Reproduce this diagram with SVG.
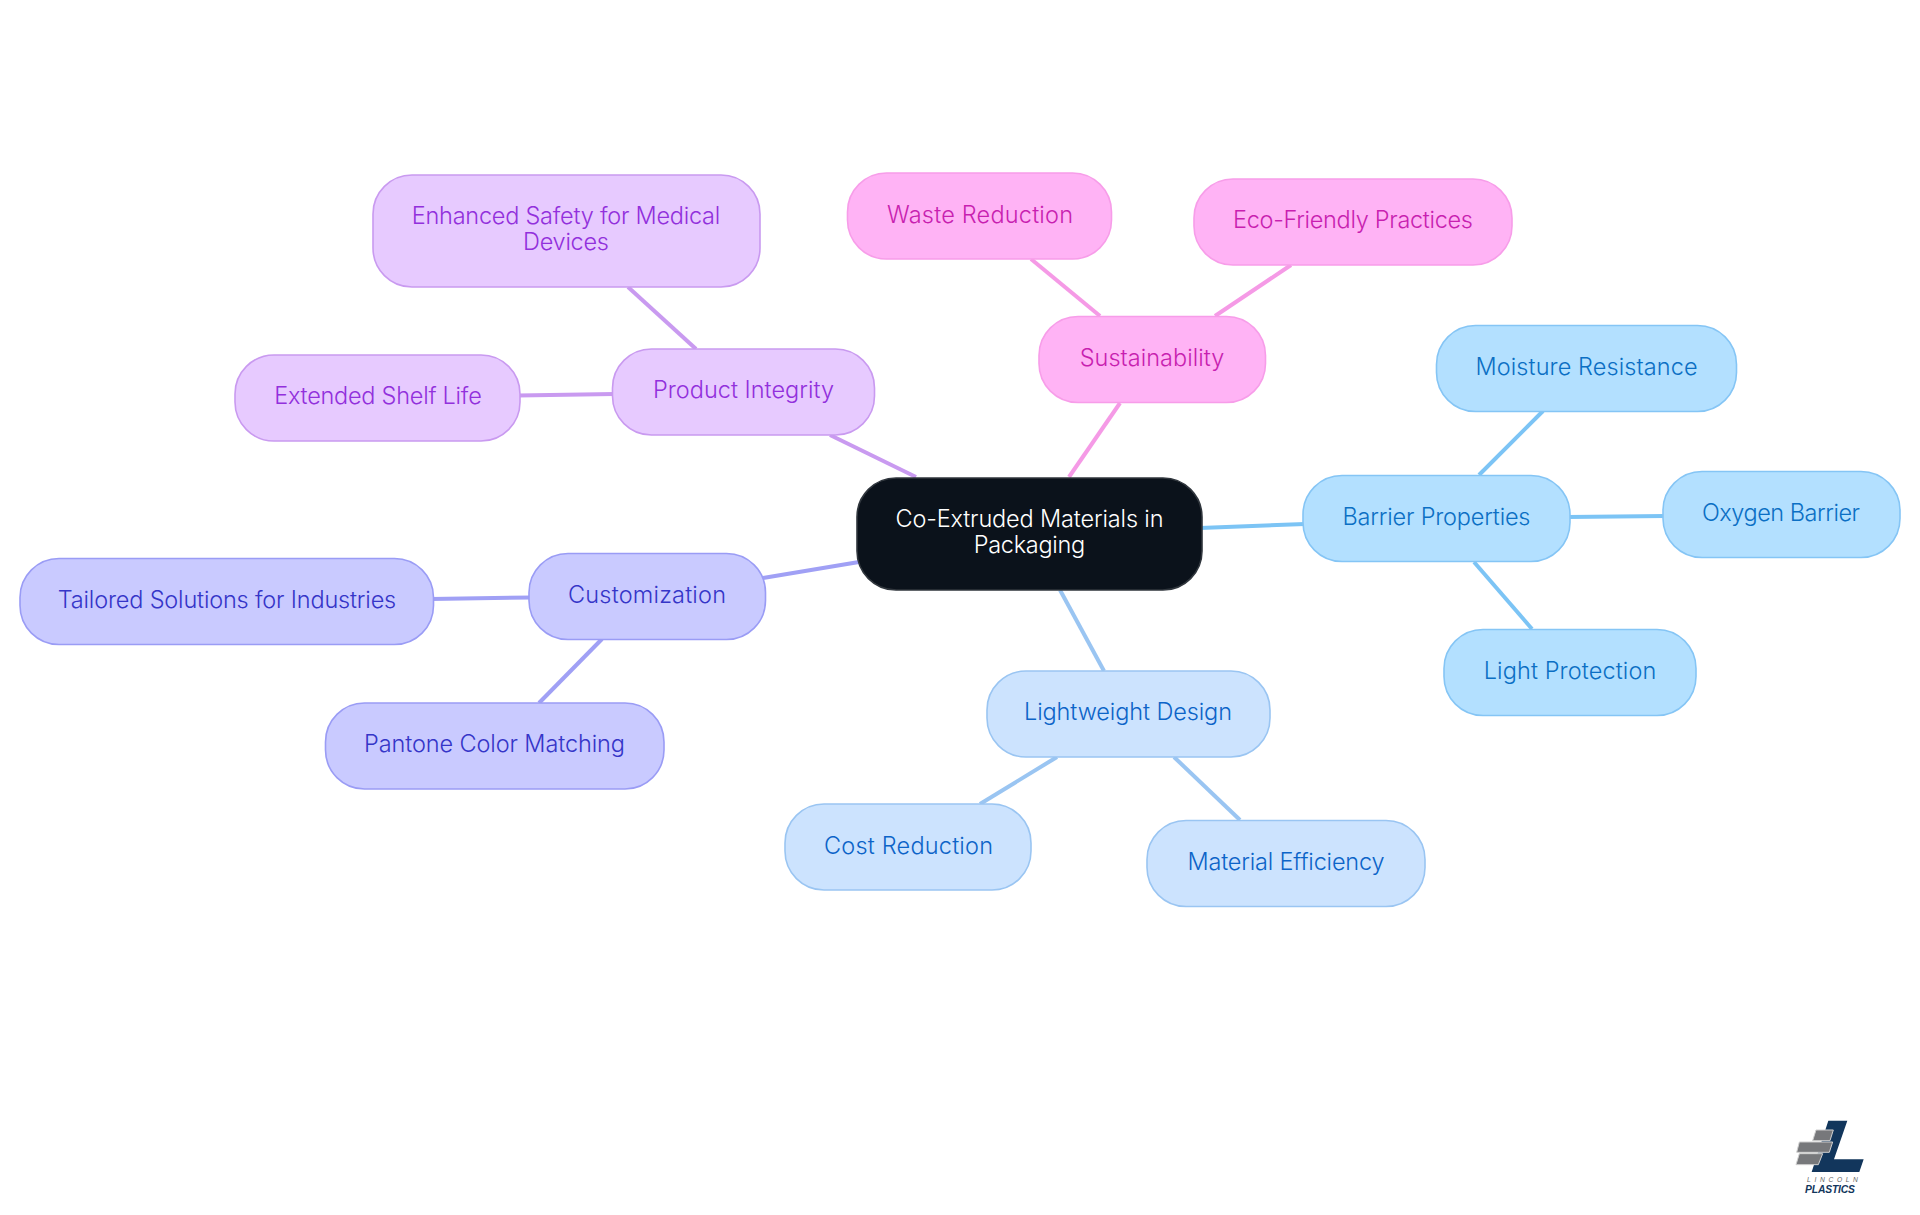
<svg xmlns="http://www.w3.org/2000/svg" width="1920" height="1215" viewBox="0 0 1920 1215">
<style>
text{font-family:"Inter","Noto Sans","Liberation Sans",sans-serif;font-size:23.5px;font-weight:300;text-anchor:middle}
rect{stroke-width:1.6}
.c line{stroke-width:4;stroke-linecap:butt}
.a rect{fill:#b3e0ff;stroke:#85c5f5}.a text{fill:#0b6fc4}
.b rect{fill:#cce3fe;stroke:#9ac5f2}.b text{fill:#0c64c8}
.s rect{fill:#ffb3f5;stroke:#f79de9}.s text{fill:#c81fb0}
.p rect{fill:#e7caff;stroke:#c99af0}.p text{fill:#9230dc}
.u rect{fill:#c9caff;stroke:#9a9cf5}.u text{fill:#3535c8}
.ca{stroke:#7cc4f5}.cb{stroke:#9ac5f2}.cs{stroke:#f59ae6}.cp{stroke:#c99af0}.cu{stroke:#a0a0f5}
</style>
<rect width="1920" height="1215" fill="#fff" stroke="none"/>
<g id="connectors" class="c">
<line class="ca" x1="1200" y1="528" x2="1305" y2="524"/>
<line class="ca" x1="1479" y1="475" x2="1543" y2="411"/>
<line class="ca" x1="1568" y1="517" x2="1665" y2="516"/>
<line class="ca" x1="1474" y1="562" x2="1532" y2="629"/>
<line class="cb" x1="1060" y1="590" x2="1104" y2="671"/>
<line class="cb" x1="1057" y1="757" x2="980" y2="804"/>
<line class="cb" x1="1174" y1="757" x2="1240" y2="820"/>
<line class="cu" x1="859" y1="562" x2="763" y2="578"/>
<line class="cu" x1="531" y1="597.5" x2="431" y2="599"/>
<line class="cu" x1="602" y1="639" x2="539" y2="703"/>
<line class="cp" x1="916" y1="477" x2="830" y2="435"/>
<line class="cp" x1="696" y1="349" x2="628" y2="287"/>
<line class="cp" x1="614" y1="394" x2="518" y2="395.5"/>
<line class="cs" x1="1069" y1="477" x2="1120" y2="403"/>
<line class="cs" x1="1100" y1="316" x2="1031" y2="259"/>
<line class="cs" x1="1215" y1="316" x2="1291" y2="265"/>
</g>
<g id="root"><rect x="857" y="478" width="345" height="112" rx="39" fill="#0b121b" stroke="#30363d"/><text x="1029.500" y="527" fill="#fff" textLength="268">Co-Extruded Materials in</text><text x="1029.500" y="553" fill="#fff" textLength="111.500">Packaging</text></g>
<g id="barrier" class="a"><rect x="1303" y="475.500" width="267" height="86" rx="39"/><text x="1436.500" y="525" textLength="188">Barrier Properties</text></g>
<g id="moisture" class="a"><rect x="1436.500" y="325.500" width="300" height="86" rx="39"/><text x="1586.500" y="375" textLength="222">Moisture Resistance</text></g>
<g id="oxygen" class="a"><rect x="1663" y="471.500" width="237" height="86" rx="39"/><text x="1781" y="521" textLength="158">Oxygen Barrier</text></g>
<g id="light" class="a"><rect x="1444" y="629.500" width="252" height="86" rx="39"/><text x="1570" y="679" textLength="172.500">Light Protection</text></g>
<g id="lightweight" class="b"><rect x="987" y="671" width="283" height="86" rx="39"/><text x="1128" y="720" textLength="208">Lightweight Design</text></g>
<g id="cost" class="b"><rect x="785" y="804" width="246" height="86" rx="39"/><text x="908.500" y="854" textLength="169">Cost Reduction</text></g>
<g id="material" class="b"><rect x="1147" y="820.500" width="278" height="86" rx="39"/><text x="1286" y="870" textLength="197">Material Efficiency</text></g>
<g id="customization" class="u"><rect x="529" y="553.500" width="236.500" height="86" rx="39"/><text x="647" y="603" textLength="158">Customization</text></g>
<g id="tailored" class="u"><rect x="20" y="558.500" width="413.500" height="86" rx="39"/><text x="227" y="608" textLength="338.500">Tailored Solutions for Industries</text></g>
<g id="pantone" class="u"><rect x="325.500" y="703" width="338.500" height="86" rx="39"/><text x="494.500" y="752" textLength="261">Pantone Color Matching</text></g>
<g id="product" class="p"><rect x="612.500" y="349" width="262" height="86" rx="39"/><text x="743.500" y="398" textLength="181">Product Integrity</text></g>
<g id="enhanced" class="p"><rect x="373" y="175" width="387" height="112" rx="39"/><text x="566" y="224" textLength="308.500">Enhanced Safety for Medical</text><text x="566" y="250" textLength="86">Devices</text></g>
<g id="extended" class="p"><rect x="235" y="355" width="285" height="86" rx="39"/><text x="378" y="404" textLength="207.500">Extended Shelf Life</text></g>
<g id="sustainability" class="s"><rect x="1039" y="316.500" width="226.500" height="86" rx="39"/><text x="1152" y="366" textLength="144.500">Sustainability</text></g>
<g id="waste" class="s"><rect x="847.500" y="173" width="264" height="86" rx="39"/><text x="980" y="223" textLength="186">Waste Reduction</text></g>
<g id="eco" class="s"><rect x="1194" y="179" width="318" height="86" rx="39"/><text x="1353" y="228" textLength="240">Eco-Friendly Practices</text></g>
<g id="logo" transform="translate(1760 1090) scale(.3333)">
<polygon points="205,92 262,92 222,208 311,208 298,246 155,246" fill="#12365c"/>
<g fill="#77787b" stroke="#d0d0d0" stroke-width="3"><polygon points="168,120 220,120 210,152 158,152"/><polygon points="118,156 218,156 208,187 110,187"/><polygon points="118,191 188,191 175,224 108,224"/></g>
<text x="223" y="275" style="font-family:'Liberation Sans',sans-serif;font-size:20px;font-weight:400;font-style:italic;letter-spacing:11px;fill:#666">LINCOLN</text>
<text x="210" y="308" textLength="150" style="font-family:'Liberation Sans',sans-serif;font-size:31px;font-weight:700;font-style:italic;fill:#12365c">PLASTICS</text>
</g>
</svg>
